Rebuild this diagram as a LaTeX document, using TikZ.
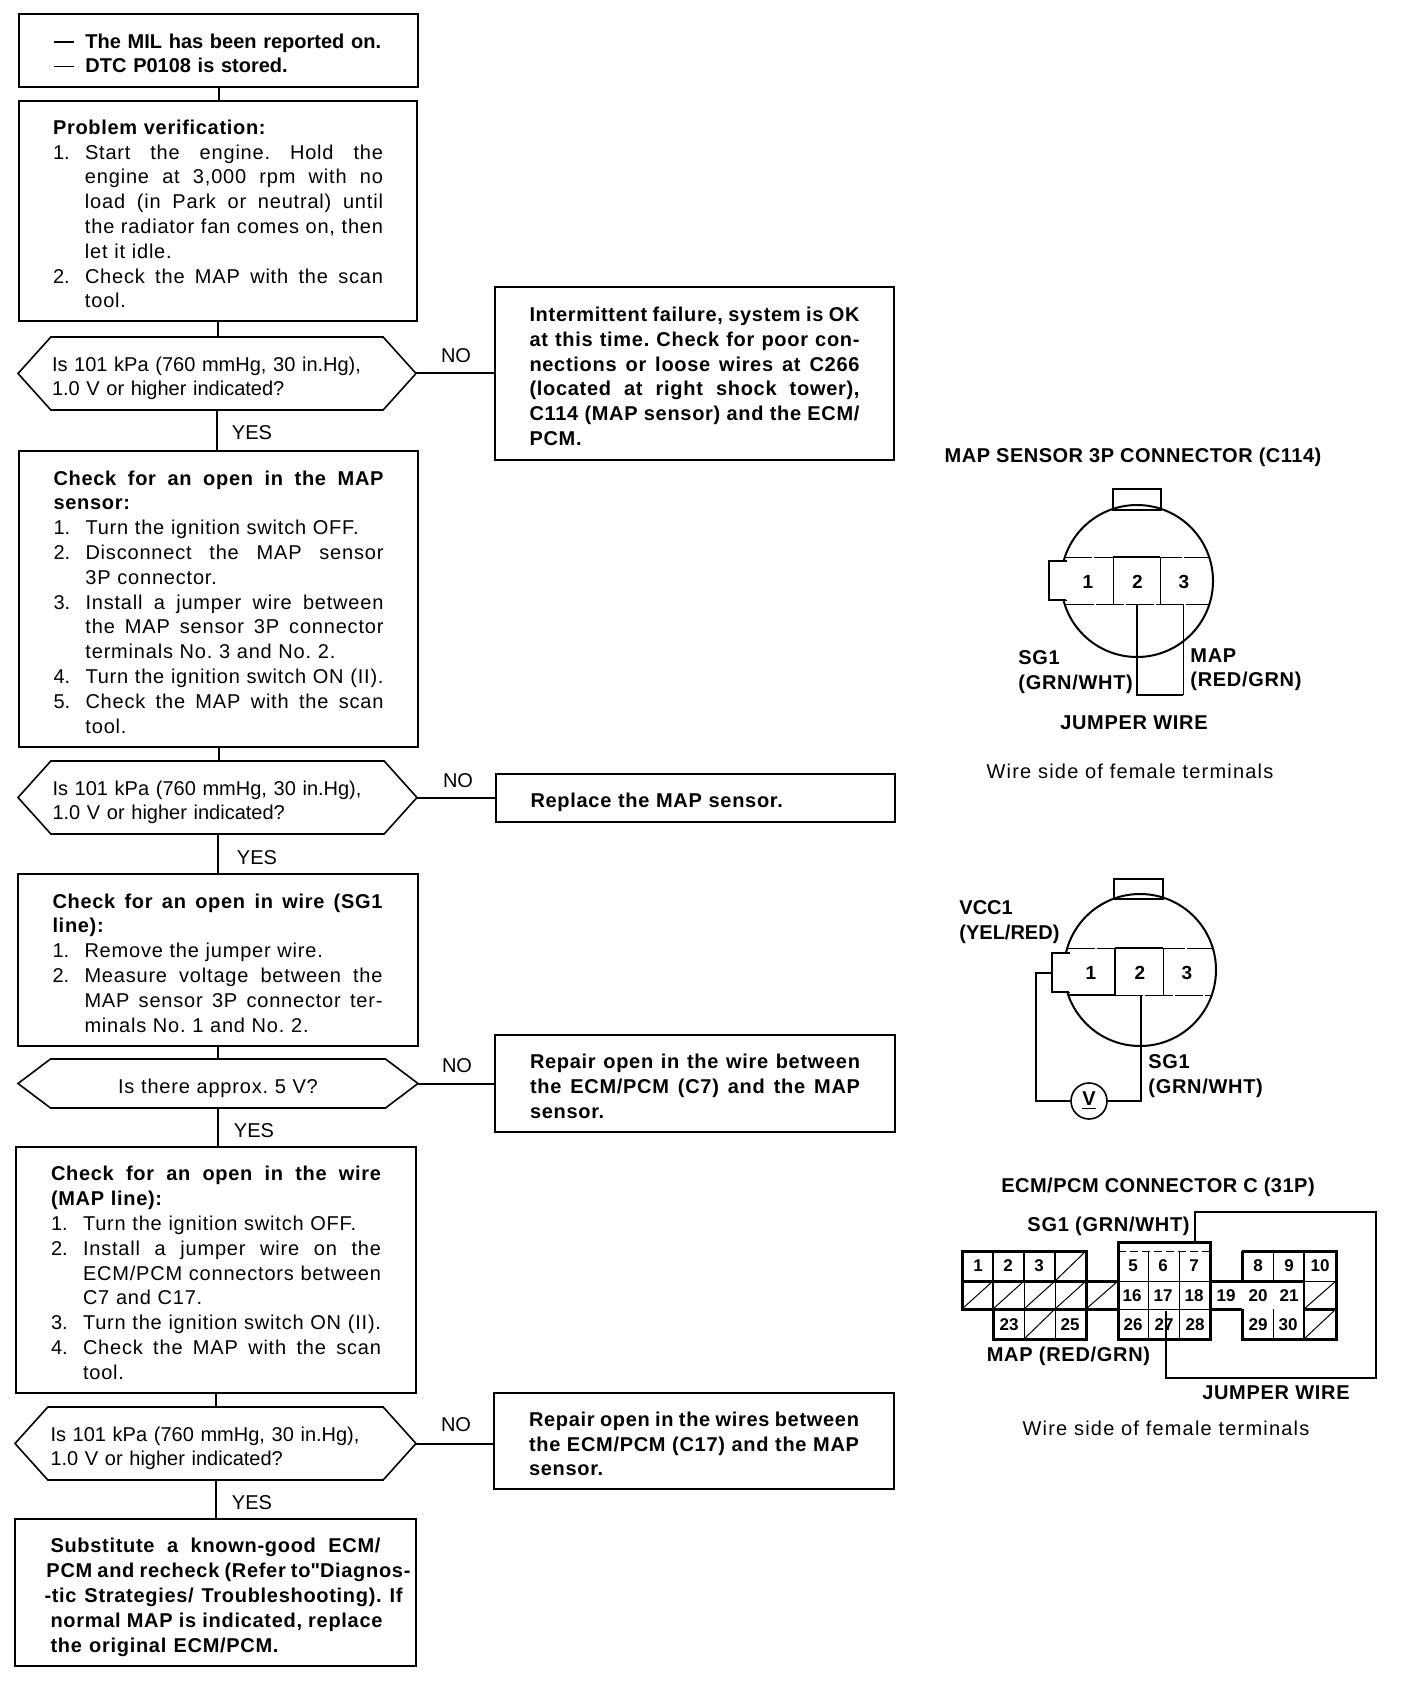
\documentclass[tikz,border=0pt]{standalone}
\usepackage{fontspec}
\setmainfont{Liberation Sans}
\newfontfamily\spc[LetterSpace=4]{Liberation Sans}
\newfontfamily\spcw[LetterSpace=6]{Liberation Sans}
\newfontfamily\blabf[LetterSpace=3.5]{Liberation Sans}
\newfontfamily\blabg[LetterSpace=2.5]{Liberation Sans}
\newfontfamily\rawf{Liberation Sans}
\newcommand\bff{\blabf\bfseries}
\usetikzlibrary{shapes.symbols,positioning}
\newcommand\jfy{\spaceskip=.278em plus 1fil minus .06em\xspaceskip=\spaceskip}
% justified full line, ragged line, numbered lines
\newcommand\lnJ[1]{\hbox to 165pt{\jfy #1}}
\newcommand\lnB[1]{\hbox to 165pt{#1\hfil}}
\newcommand\lnIJ[1]{\hbox to 165pt{\hskip16pt\hbox to 149pt{\jfy\spc #1}}}
\newcommand\lnIR[1]{\hbox to 165pt{\hskip16pt{\spc #1}\hfil}}
\newcommand\lnNJ[2]{\hbox to 165pt{\hbox to 16pt{#1\hfil}\hbox to 149pt{\jfy\spc #2}}}
\newcommand\lnNR[2]{\hbox to 165pt{\hbox to 16pt{#1\hfil}{\spc #2}\hfil}}
\newcommand\lnX[3]{\hbox to 165pt{\hskip#1pt\hbox to #2pt{\jfy #3}\hss}}
\tikzset{
  box/.style={draw=black,line width=1pt,fill=white,inner sep=0pt,text width=165pt,
    font=\fontsize{10}{12.4}\selectfont\frenchspacing,execute at begin node={\par\vskip-2.2pt\relax}},
  hex/.style={draw=black,line width=.8pt,fill=white,signal,signal to=west and east,
    inner sep=0pt,outer sep=0pt,text width=165pt,font=\fontsize{10}{12.4}\selectfont\frenchspacing,
    execute at begin node={\vskip-.3pt\relax}},
  lab/.style={inner sep=0pt,font=\fontsize{10}{12}\selectfont},
  blab/.style={inner sep=0pt,font=\fontsize{10}{12.4}\selectfont\blabf\bfseries,align=left},
  titlelab/.style={inner sep=0pt,font=\fontsize{10}{12.4}\selectfont\blabg\bfseries},
  wside/.style={inner sep=0pt,font=\fontsize{10}{12}\selectfont\spcw},
  pin/.style={inner sep=0pt,font=\fontsize{9.5}{11}\selectfont\bfseries},
  cell/.style={inner sep=0pt,font=\fontsize{8.5}{9}\selectfont\bfseries},
  conn/.style={line width=1pt,black},
  thick line/.style={line width=1.2pt,black},
  thin line/.style={line width=.5pt,black},
  grid line/.style={line width=1.5pt,black}
}
\begin{document}
\begin{tikzpicture}[x=0.5pt,y=-0.5pt]
\useasboundingbox (0,0) rectangle (1408,1684);
% flow column
\node[box,minimum width=199.5pt,minimum height=36.5pt] (b1) at (218.5,50.5)
 {\bfseries
  \lnB{\hbox to 16pt{\rule[2.8pt]{10pt}{.9pt}\hfil}The MIL has been reported on.}
  \lnB{\hbox to 16pt{\rule[2.8pt]{10pt}{.9pt}\hfil}DTC P0108 is stored.}};
\node[box,minimum width=199pt,minimum height=110pt] (b2) at (218,211)
 {\lnB{\bff Problem verification:}
  \lnNJ{1.}{Start the engine. Hold the}
  \lnIJ{engine at 3,000 rpm with no}
  \lnIJ{load (in Park or neutral) until}
  \lnIJ{the radiator fan comes on, then}
  \lnIR{let it idle.}
  \lnNJ{2.}{Check the MAP with the scan}
  \lnIR{tool.}};
\node[hex,minimum width=199pt,minimum height=36.5pt,signal pointer angle=96] (h1) at (217,373.5)
 {Is 101 kPa (760 mmHg, 30 in.Hg),\\1.0 V or higher indicated?};
\node[box,minimum width=199.5pt,minimum height=148pt] (b3) at (218.5,599)
 {\lnJ{\bff Check for an open in the MAP}
  \lnB{\bff sensor:}
  \lnNR{1.}{Turn the ignition switch OFF.}
  \lnNJ{2.}{Disconnect the MAP sensor}
  \lnIR{3P connector.}
  \lnNJ{3.}{Install a jumper wire between}
  \lnIJ{the MAP sensor 3P connector}
  \lnIR{terminals No. 3 and No. 2.}
  \lnNR{4.}{Turn the ignition switch ON (II).}
  \lnNJ{5.}{Check the MAP with the scan}
  \lnIR{tool.}};
\node[hex,minimum width=199.5pt,minimum height=36.5pt,signal pointer angle=96] (h2) at (217.5,797.5)
 {Is 101 kPa (760 mmHg, 30 in.Hg),\\1.0 V or higher indicated?};
\node[box,minimum width=200pt,minimum height=86pt] (b4) at (217.5,960)
 {\lnJ{\bff Check for an open in wire (SG1}
  \lnB{\bff line):}
  \lnNR{1.}{Remove the jumper wire.}
  \lnNJ{2.}{Measure voltage between the}
  \lnIJ{MAP sensor 3P connector ter-}
  \lnIR{minals No. 1 and No. 2.}};
\node[hex,minimum width=200pt,minimum height=24.5pt,signal pointer angle=74,align=center] (h3) at (218,1083.5)
 {\spc Is there approx. 5 V?};
\node[box,minimum width=200pt,minimum height=123pt] (b5) at (216,1270)
 {\lnJ{\bff Check for an open in the wire}
  \lnB{\bff (MAP line):}
  \lnNR{1.}{Turn the ignition switch OFF.}
  \lnNJ{2.}{Install a jumper wire on the}
  \lnIJ{ECM/PCM connectors between}
  \lnIR{C7 and C17.}
  \lnNR{3.}{Turn the ignition switch ON (II).}
  \lnNJ{4.}{Check the MAP with the scan}
  \lnIR{tool.}};
\node[hex,minimum width=200.5pt,minimum height=36.5pt,signal pointer angle=96] (h4) at (215.5,1443.5)
 {Is 101 kPa (760 mmHg, 30 in.Hg),\\1.0 V or higher indicated?};
\node[box,minimum width=200.5pt,minimum height=73.5pt] (b6) at (215.5,1592.5)
 {\bff\vskip2pt
  \lnX{0}{165}{Substitute a known-good ECM/}
  \lnX{-2}{182}{PCM and recheck (Refer to{\rawf\bfseries"}Diagnos-}
  \lnX{-3}{179}{-tic Strategies/ Troubleshooting). If}
  \lnX{0}{166}{normal MAP is indicated, replace}
  \lnX{0}{114}{the original ECM/PCM.}};
% right column
\node[box,minimum width=199.5pt,minimum height=86.5pt] (r1) at (694.5,373.5)
 {\bff
  \lnJ{Intermittent failure, system is OK}
  \lnJ{at this time. Check for poor con-}
  \lnJ{nections or loose wires at C266}
  \lnJ{(located at right shock tower),}
  \lnJ{C114 (MAP sensor) and the ECM/}
  \lnB{PCM.}};
\node[box,minimum width=199.5pt,minimum height=24pt] (r2) at (695.5,797.5)
 {\vskip1.5pt\lnB{\bff Replace the MAP sensor.}};
\node[box,minimum width=200pt,minimum height=48.5pt] (r3) at (695,1083.5)
 {\bff
  \lnJ{Repair open in the wire between}
  \lnJ{the ECM/PCM (C7) and the MAP}
  \lnB{sensor.}};
\node[box,minimum width=200pt,minimum height=48pt] (r4) at (694,1441)
 {\bff
  \lnJ{Repair open in the wires between}
  \lnJ{the ECM/PCM (C17) and the MAP}
  \lnB{sensor.}};
% connectors
\draw[conn] (b1.south) -- (b1.south |- b2.north);
\draw[conn] (b2.south) -- (b2.south |- h1.north);
\draw[conn] (h1.south) -- (h1.south |- b3.north);
\draw[conn] (b3.south) -- (b3.south |- h2.north);
\draw[conn] (h2.south) -- (h2.south |- b4.north);
\draw[conn] (b4.south) -- (b4.south |- h3.north);
\draw[conn] (h3.south) -- (h3.south |- b5.north);
\draw[conn] (b5.south) -- (b5.south |- h4.north);
\draw[conn] (h4.south) -- (h4.south |- b6.north);
\draw[conn] (h1.east) -- (h1.east -| r1.west);
\draw[conn] (h2.east) -- (h2.east -| r2.west);
\draw[conn] (h3.east) -- (h3.east -| r3.west);
\draw[conn] (h4.east) -- (h4.east -| r4.west);
\node[lab] (n1) at (456,356) {NO};
\node[lab] (n2) at (458,781) {NO};
\node[lab] (n3) at (457,1066) {NO};
\node[lab] (n4) at (456,1425) {NO};
\node[lab] (y1) at (252,433) {YES};
\node[lab] (y2) at (257,858) {YES};
\node[lab] (y3) at (254,1131) {YES};
\node[lab] (y4) at (252,1503) {YES};
% --- connector drawing 1
\node[titlelab] (t1) at (1133,457) {MAP SENSOR 3P CONNECTOR (C114)};
\node[circle,draw=black,line width=1pt,inner sep=0pt,minimum size=76pt] (c1) at (1137,581) {};
\draw[fill=white,line width=1pt] (1067,561) -- (1049,561) -- (1049,600) -- (1067,600);
\fill[white] (1066,561.5) rectangle (1070,599.5);
\draw[thick line] (1113,510) -- (1113,489) -- (1161,489) -- (1161,510) -- cycle;
\draw[thin line,dash pattern=on 14pt off 1pt] (1064,557) -- (1209,557);
\draw[thin line,dash pattern=on 14pt off 1pt] (1066,604) -- (1209,604);
\draw[thick line] (1113,557) -- (1160,557);
\draw[thin line] (1113,557) -- (1113,604) (1160,557) -- (1160,604);
\node[pin] (p11) at (1088,582) {1};
\node[pin] (p12) at (1137.5,582) {2};
\node[pin] (p13) at (1184,582) {3};
\coordinate (j1) at (1137,604);
\coordinate (j2) at (1183,604);
\draw[thick line] (j1) -- (1137,695) -- (1183,695);
\draw[thin line] (1183,695) -- (j2);
\node[blab,anchor=north west] (sg1) at (1018,650) {SG1\\(GRN/WHT)};
\node[blab,anchor=north west] (map1) at (1190,648) {MAP\\(RED/GRN)};
\node[blab] (jw1) at (1134,723) {JUMPER WIRE};
\node[wside] (ws1) at (1130,771) {Wire side of female terminals};
% --- connector drawing 2
\node[circle,draw=black,line width=1pt,inner sep=0pt,minimum size=76pt] (c2) at (1140,970) {};
\draw[fill=white,line width=1.2pt] (1070,953) -- (1052,953) -- (1052,992) -- (1070,992);
\fill[white] (1069,953.5) rectangle (1073,991.5);
\draw[thick line] (1114,899) -- (1114,879) -- (1163,879) -- (1163,899) -- cycle;
\draw[thin line,dash pattern=on 14pt off 1pt] (1067,948) -- (1212,948);
\draw[thin line,dash pattern=on 14pt off 1pt] (1115,995) -- (1212,995);
\draw[thick line] (1069,995) -- (1115,995);
\draw[thick line] (1115,948) -- (1163,948);
\draw[thick line] (1115,948) -- (1115,995);
\draw[thin line] (1163,948) -- (1163,995);
\node[pin] (p21) at (1091,973) {1};
\node[pin] (p22) at (1140,973) {2};
\node[pin] (p23) at (1187,973) {3};
\node[circle,draw=black,line width=.8pt,inner sep=0pt,minimum size=18pt,font=\fontsize{10}{12}\selectfont\bfseries] (vm) at (1089,1101) {\underline{V}};
\coordinate (w1) at (1052,973);
\coordinate (w2) at (1141,995);
\draw[line width=.9pt] (w1) -- (1036,973) |- (vm.west);
\draw[line width=.9pt] (w2) -- (1141,1101) -- (vm.east);
\node[blab,anchor=north west,font=\fontsize{10}{12.4}\selectfont\bfseries] (vcc) at (959,900) {VCC1\\(YEL/RED)};
\node[blab,anchor=north west] (sg2) at (1148,1054) {SG1\\(GRN/WHT)};
% --- connector drawing 3
\node[titlelab] (t3) at (1158,1187) {ECM/PCM CONNECTOR C (31P)};
\node[blab,anchor=east] (sg3) at (1190,1226) {SG1 (GRN/WHT)};
% horizontal strips
\draw[grid line] (962,1281) -- (1118,1281);
\draw[grid line] (1210,1281) -- (1304,1281);
\draw[grid line] (962,1309) -- (1118,1309);
\draw[grid line] (1210,1309) -- (1242,1309);
\draw[thin line] (1118,1281) -- (1210,1281) (1304,1281) -- (1336,1281);
\draw[thin line] (1118,1309) -- (1210,1309);
\draw[thin line,dash pattern=on 4pt off 2pt] (1118,1251) -- (1210,1251);
\draw[grid line] (1304,1309) -- (1336,1309);
\draw[thick line] (1304,1251) -- (1304,1339);
% outlines
\draw[grid line] (962,1251) -- (1086,1251) -- (1086,1339) -- (993,1339) -- (993,1309) -- (962,1309) -- cycle;
\draw[grid line] (1118,1242) -- (1210,1242) -- (1210,1339) -- (1118,1339) -- cycle;
\draw[grid line] (1242,1251) -- (1336,1251) -- (1336,1281) (1336,1281) -- (1336,1339) -- (1242,1339) -- (1242,1309);
\draw[grid line] (1242,1251) -- (1242,1281);
% left block verticals
\draw[thick line] (993,1251) -- (993,1309) (1024,1251) -- (1024,1281) (1055,1251) -- (1055,1281);
\draw[thin line] (1024,1281) -- (1024,1339) (1055,1281) -- (1055,1339);
% middle and right verticals
\draw[thin line] (1148,1251) -- (1148,1339) (1179,1251) -- (1179,1339);
\draw[thin line] (1273,1251) -- (1273,1281) (1273,1309) -- (1273,1339);
% hatched cells
\foreach \xa/\xb/\ya/\yb in {1055/1086/1281/1251, 962/993/1309/1281, 993/1024/1309/1281, 1024/1055/1309/1281, 1055/1086/1309/1281, 1086/1118/1309/1281, 1024/1055/1339/1309, 1304/1336/1309/1281, 1304/1336/1339/1309}
  \draw[thin line] (\xa,\ya) -- (\xb,\yb);
\foreach \t/\x/\y in {1/978/1266, 2/1008/1266, 3/1039/1266, 23/1009/1325, 25/1070/1325,
  5/1133/1266, 6/1163/1266, 7/1194/1266, 16/1132/1296, 17/1163/1296, 18/1194/1296, 19/1226/1296, 20/1258/1296, 21/1289/1296,
  26/1133/1325, 27/1164/1325, 28/1195/1325, 8/1258/1266, 9/1289/1266, 10/1320/1266, 29/1258/1325, 30/1288/1325}
  \node[cell] (k\t) at (\x,\y) {\t};
\coordinate (ja) at (1195,1242);
\coordinate (jb) at (1166,1311);
\draw[thick line] (ja) -- (1195,1212) -- (1376,1212) -- (1376,1378) -- (1166,1378) -- (jb);
\node[blab] (map3) at (1068.5,1356) {MAP (RED/GRN)};
\node[blab] (jw3) at (1276,1393) {JUMPER WIRE};
\node[wside] (ws3) at (1166,1428) {Wire side of female terminals};
\end{tikzpicture}
\end{document}
